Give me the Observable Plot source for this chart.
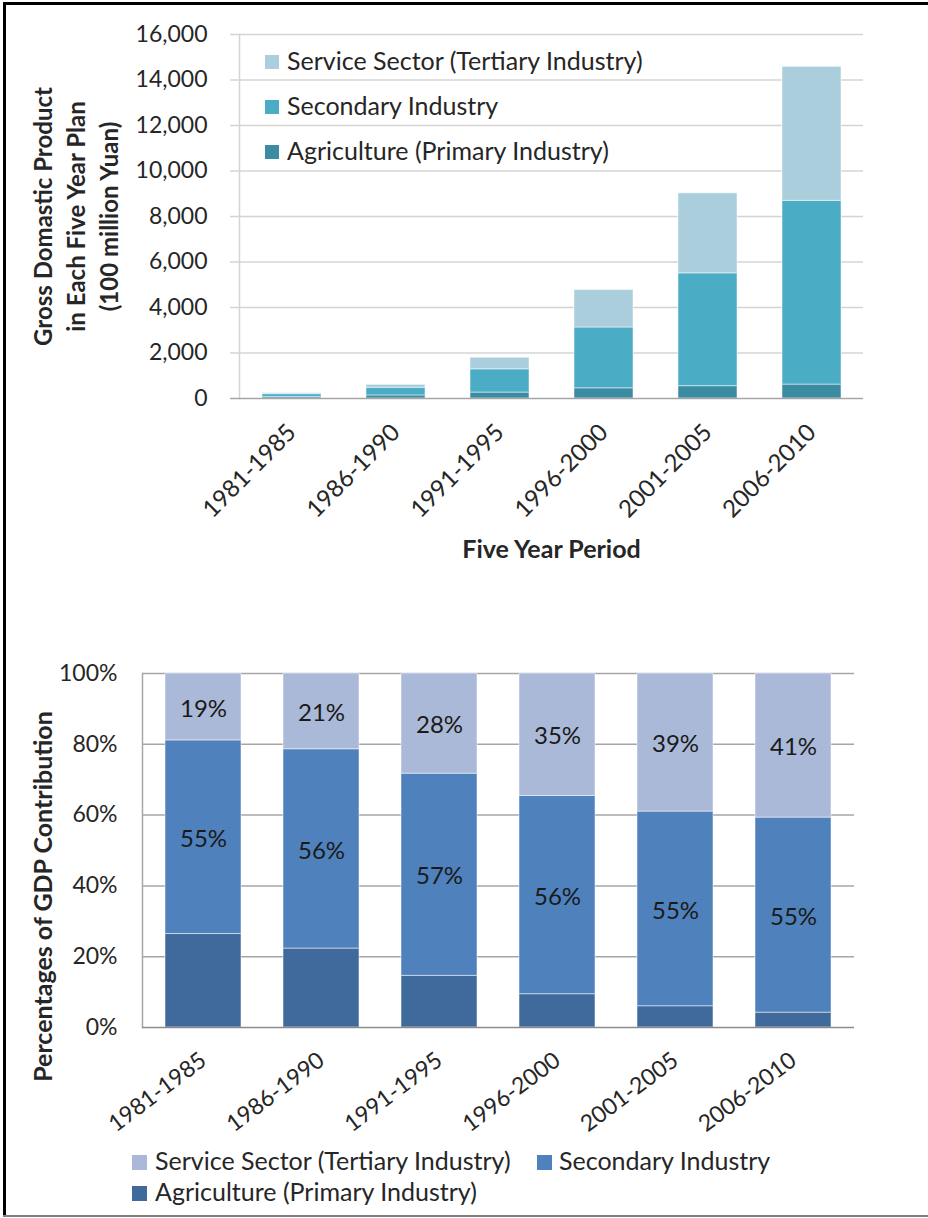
<!DOCTYPE html>
<html><head><meta charset="utf-8">
<script src="https://cdn.jsdelivr.net/npm/d3@7"></script>
<script src="https://cdn.jsdelivr.net/npm/@observablehq/plot@0.6"></script>
<style>
body{margin:0;background:#fff;}
#root{position:relative;width:928px;height:1218px;overflow:hidden;font-family:Lato,sans-serif;color:#262626;background:#fff;}
.abs{position:absolute;}
.lt{position:absolute;font-size:25px;line-height:25px;white-space:nowrap;color:#262626;}
svg{position:absolute;left:0;overflow:visible;}
</style></head><body><div id="root"></div>
<script>
// ---- data ----
const periods = ["1981-1985", "1986-1990", "1991-1995", "1996-2000", "2001-2005", "2006-2010"];
const sectors = ["Agriculture (Primary Industry)", "Secondary Industry", "Service Sector (Tertiary Industry)"];
// GDP per five-year plan (100 million Yuan)
const gdpAgriculture = [61, 134, 261, 448, 541, 612];
const gdpSecondary   = [129, 338, 1022, 2674, 4960, 8076];
const gdpService     = [45, 128, 507, 1644, 3518, 5889];
// Percentage shares
const pctAgriculture = [26.4, 22.3, 14.6, 9.4, 6.0, 4.2];
const pctSecondary   = [54.7, 56.3, 57.1, 56.0, 55.0, 55.1];
const pctService     = [18.9, 21.4, 28.3, 34.6, 39.0, 40.7];
const gdpTicks = [0, 2000, 4000, 6000, 8000, 10000, 12000, 14000, 16000];
const pctTicks = [0, 20, 40, 60, 80, 100];
const topColors = ["#3B8BA3", "#4BACC6", "#AACEDC"];
const bottomColors = ["#3F6A9B", "#4F81BD", "#AAB9D7"];
const yTitleTop = "Gross Domastic Product\nin Each Five Year Plan\n(100 million Yuan)";
const xTitleTop = "Five Year Period";
const yTitleBottom = "Percentages of GDP Contribution";

// ---- tables ----
const gdpSeries = [gdpAgriculture, gdpSecondary, gdpService];
const pctSeries = [pctAgriculture, pctSecondary, pctService];
const gdpRows = sectors.flatMap((s, k) => periods.map((p, i) => ({period: p, sector: s, value: gdpSeries[k][i]})));
const pctRows = sectors.flatMap((s, k) => periods.map((p, i) => ({period: p, sector: s, value: pctSeries[k][i]})));

const root = document.getElementById("root");
const baseStyle = {fontFamily: "Lato, sans-serif", fontSize: "23px", color: "#262626", background: "transparent", overflow: "visible"};

const topChart = Plot.plot({
  width: 928, height: 580,
  marginLeft: 239, marginRight: 65, marginTop: 34, marginBottom: 182,
  style: baseStyle,
  x: {domain: periods, paddingInner: 0.433, paddingOuter: 0.2165},
  y: {domain: [0, 16000]},
  color: {domain: sectors, range: topColors},
  marks: [
    Plot.ruleY(gdpTicks.slice(1), {stroke: "#d4d4d4", strokeWidth: 1.5, insetLeft: -9}),
    Plot.frame({anchor: "left", stroke: "#d4d4d4", strokeWidth: 1.5}),
    Plot.barY(gdpRows, {x: "period", y: "value", fill: "sector", stroke: "#fff", strokeOpacity: 0.5, strokeWidth: 1}),
    Plot.ruleY([0], {stroke: "#a6a6a6", strokeWidth: 1.5, insetLeft: -9}),
    Plot.axisY({ticks: gdpTicks, tickFormat: d3.format(","), tickSize: 0, tickPadding: 32, label: null, fontSize: 23}),
    Plot.axisX({tickSize: 0, tickRotate: -45, tickPadding: 30, label: null, fontSize: 24}),
    Plot.text([xTitleTop], {text: d => d, frameAnchor: "bottom", dy: 159, fontWeight: "bold", fontSize: 25}),
    Plot.text([yTitleTop], {text: d => d, frameAnchor: "left", textAnchor: "middle", rotate: -90, dx: -165, fontWeight: "bold", fontSize: 24, lineHeight: 1.36})
  ]
});
topChart.style.top = "0px";
root.appendChild(topChart);

const bottomChart = Plot.plot({
  width: 928, height: 540,
  marginLeft: 142, marginRight: 74, marginTop: 73, marginBottom: 113,
  style: baseStyle,
  x: {domain: periods, paddingInner: 0.36, paddingOuter: 0.18},
  y: {domain: [0, 100]},
  color: {domain: sectors, range: bottomColors},
  marks: [
    Plot.ruleY(pctTicks.slice(1), {stroke: "#a6a6a6", strokeWidth: 1.5}),
    Plot.frame({anchor: "left", stroke: "#a6a6a6", strokeWidth: 1.5}),
    Plot.barY(pctRows, {x: "period", y: "value", fill: "sector", stroke: "#fff", strokeOpacity: 0.5, strokeWidth: 1}),
    Plot.ruleY([0], {stroke: "#8c8c8c", strokeWidth: 1.5}),
    Plot.text(pctRows, Plot.stackY({x: "period", y: "value", z: "sector",
      text: d => d.sector === sectors[0] ? "" : Math.round(d.value) + "%", fontSize: 24, fill: "#1a1a1a", dy: 2})),
    Plot.axisY({ticks: pctTicks, tickFormat: d => d + "%", tickSize: 0, tickPadding: 25, label: null, fontSize: 23}),
    Plot.axisX({tickSize: 0, tickRotate: -37, tickPadding: 30, label: null, fontSize: 23}),
    Plot.text([yTitleBottom], {text: d => d, frameAnchor: "left", textAnchor: "middle", rotate: -90, dx: -99, dy: 46, fontWeight: "bold", fontSize: 25})
  ]
});
bottomChart.style.top = "600px";
root.appendChild(bottomChart);

// ---- legends (HTML) ----
function legendItem(left, cy, size, gap, color, label) {
  const sw = document.createElement("div");
  sw.className = "abs";
  Object.assign(sw.style, {left: left + "px", top: (cy - size / 2) + "px", width: size + "px", height: size + "px", background: color});
  root.appendChild(sw);
  const t = document.createElement("div");
  t.className = "lt";
  t.textContent = label;
  Object.assign(t.style, {left: (left + size + gap) + "px", top: (cy + 8 - 22.2) + "px"});
  root.appendChild(t);
}
legendItem(265, 62, 14, 8, topColors[2], sectors[2]);
legendItem(265, 107, 14, 8, topColors[1], sectors[1]);
legendItem(265, 152, 14, 8, topColors[0], sectors[0]);
legendItem(132, 1162.5, 15, 8, bottomColors[2], sectors[2]);
legendItem(537, 1162.5, 15, 7, bottomColors[1], sectors[1]);
legendItem(132, 1193, 15, 8, bottomColors[0], sectors[0]);

// ---- outer frame ----
function line(l, t, w, h, c) {
  const d = document.createElement("div");
  d.className = "abs";
  Object.assign(d.style, {left: l + "px", top: t + "px", width: w + "px", height: h + "px", background: c});
  root.appendChild(d);
}
line(3, 2, 925, 3, "#000");
line(3, 2, 3, 1215, "#000");
line(3, 1215, 925, 2, "#808080");
</script></body></html>
